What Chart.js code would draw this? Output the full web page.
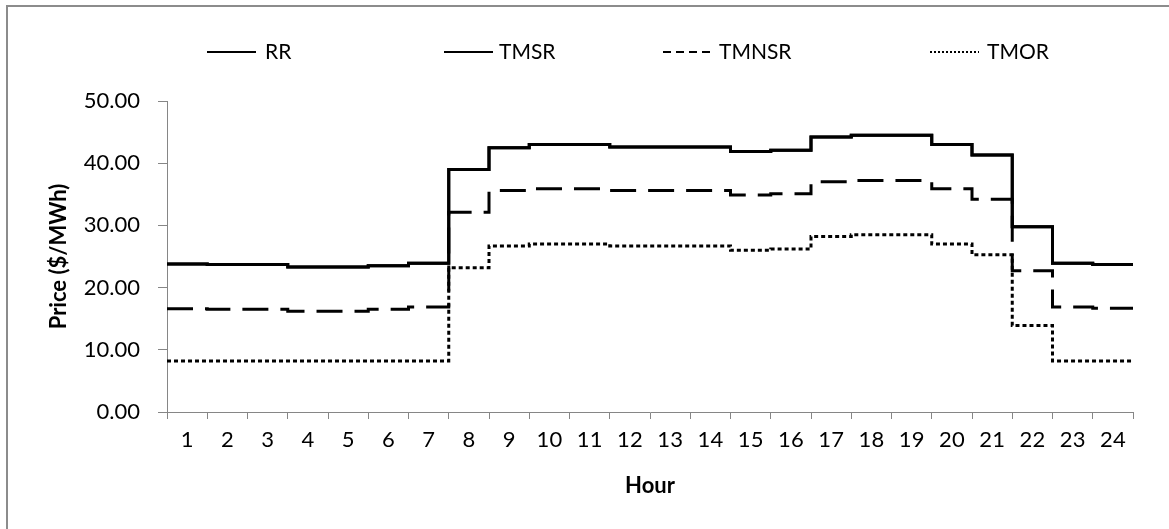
<!DOCTYPE html>
<html>
<head>
<meta charset="utf-8">
<script src="https://cdn.jsdelivr.net/npm/chart.js@4/dist/chart.umd.min.js"></script>
<style>
  body { margin: 0; background: #fff; }
  #caja { position: relative; width: 1169px; height: 529px; }
  #marco { position: absolute; left: 6px; top: 5px; width: 1200px; height: 600px;
           border-left: 2px solid #8c8c8c; border-top: 2px solid #8c8c8c; }
  canvas { position: absolute; left: 0; top: 0; }
</style>
</head>
<body>
<div id="caja">
  <div id="marco"></div>
  <canvas id="precioChart"></canvas>
</div>
<script>
// Horas (etiquetas del eje X)
const HORAS = ['1','2','3','4','5','6','7','8','9','10','11','12',
               '13','14','15','16','17','18','19','20','21','22','23','24'];

// Precios por hora ($/MWh)
const RR    = [23.8, 23.7, 23.7, 23.3, 23.3, 23.5, 23.9, 39.0, 42.5, 43.0, 43.0, 42.6, 42.6, 42.6,
               41.9, 42.1, 44.2, 44.5, 44.5, 43.0, 41.3, 29.8, 23.9, 23.7];
const TMSR  = [23.8, 23.7, 23.7, 23.3, 23.3, 23.5, 23.9, 39.0, 42.5, 43.0, 43.0, 42.6, 42.6, 42.6,
               41.9, 42.1, 44.2, 44.5, 44.5, 43.0, 41.3, 29.8, 23.9, 23.7];
const TMNSR = [16.6, 16.5, 16.5, 16.2, 16.2, 16.5, 16.9, 32.1, 35.6, 35.9, 35.9, 35.6, 35.6, 35.6,
               34.9, 35.1, 37.0, 37.2, 37.2, 35.9, 34.2, 22.7, 16.9, 16.7];
const TMOR  = [8.2, 8.2, 8.2, 8.2, 8.2, 8.2, 8.2, 23.2, 26.7, 27.0, 27.0, 26.7, 26.7, 26.7,
               26.0, 26.2, 28.2, 28.5, 28.5, 27.0, 25.3, 13.9, 8.2, 8.2];

const FUENTE = 'Lato';
const GRIS = '#868686';

// Cada hora ocupa de h-1 a h; se repite el último valor para cerrar la hora 24
function escalones(valores) {
    const puntos = valores.map((v, i) => ({ x: i, y: v }));
    puntos.push({ x: valores.length, y: valores[valores.length - 1] });
    return puntos;
}

function serie(nombre, valores, guion, guionLeyenda) {
    return {
        label: nombre,
        data: escalones(valores),
        xAxisID: 'xl',
        borderColor: '#000',
        borderWidth: 3,
        borderDash: guion,
        borderCapStyle: 'butt',
        stepped: 'before',
        pointRadius: 0,
        fill: false,
        guionLeyenda: guionLeyenda
    };
}

// Leyenda dibujada a mano para respetar la separación del original
const leyendaPlugin = {
    id: 'leyendaLinea',
    afterDraw(chart) {
        const ctx = chart.ctx;
        const inicios = [207, 444, 663, 930];
        const textos = [265, 499, 719, 987];
        const y = 52;
        ctx.save();
        chart.data.datasets.forEach((ds, i) => {
            ctx.beginPath();
            ctx.strokeStyle = ds.borderColor;
            ctx.lineWidth = 2;
            ctx.setLineDash(ds.guionLeyenda);
            ctx.moveTo(inicios[i], y);
            ctx.lineTo(inicios[i] + 49, y);
            ctx.stroke();
            ctx.setLineDash([]);
            ctx.fillStyle = '#000';
            ctx.font = '21px ' + FUENTE;
            ctx.textBaseline = 'middle';
            ctx.fillText(ds.label, textos[i], y);
        });
        ctx.restore();
    }
};

const ctx = document.getElementById('precioChart').getContext('2d');

new Chart(ctx, {
    type: 'line',
    data: {
        labels: HORAS,
        datasets: [
            serie('RR', RR, [], []),
            serie('TMSR', TMSR, [], []),
            serie('TMNSR', TMNSR, [26, 12], [8, 5]),
            serie('TMOR', TMOR, [4, 3], [2, 2])
        ]
    },
    options: {
        responsive: true,
        maintainAspectRatio: false,
        animation: false,
        layout: { padding: { left: 8, top: 101, right: 36, bottom: 0 } },
        plugins: {
            legend: { display: false },
            tooltip: { enabled: false }
        },
        scales: {
            xl: {
                type: 'linear',
                display: false,
                min: 0,
                max: 24
            },
            x: {
                type: 'category',
                labels: HORAS,
                offset: true,
                grid: { offset: true, drawOnChartArea: false, tickLength: 7, color: GRIS },
                border: { color: GRIS, width: 1 },
                ticks: { color: '#000', font: { family: FUENTE, size: 22 }, padding: 8,
                         maxRotation: 0, autoSkip: false },
                title: { display: true, text: 'Hour', color: '#000',
                         font: { family: FUENTE, size: 22, weight: 'bold' },
                         padding: { top: 30, bottom: 30 } },
                afterFit(s) { s.height = 117; s.paddingLeft = 0; s.paddingRight = 0; }
            },
            y: {
                min: 0,
                max: 50,
                ticks: { stepSize: 10, color: '#000', font: { family: FUENTE, size: 22 }, padding: 18,
                         callback: v => v.toFixed(2) },
                grid: { drawOnChartArea: false, tickLength: 9, color: GRIS },
                border: { color: GRIS, width: 1 },
                title: { display: true, text: 'Price ($/MWh)', color: '#000',
                         font: { family: FUENTE, size: 22, weight: 'bold' },
                         padding: { top: 38, bottom: 38 } },
                afterFit(s) { s.width = 159; s.paddingTop = 0; s.paddingBottom = 0; }
            }
        }
    },
    plugins: [leyendaPlugin]
});
</script>
</body>
</html>
